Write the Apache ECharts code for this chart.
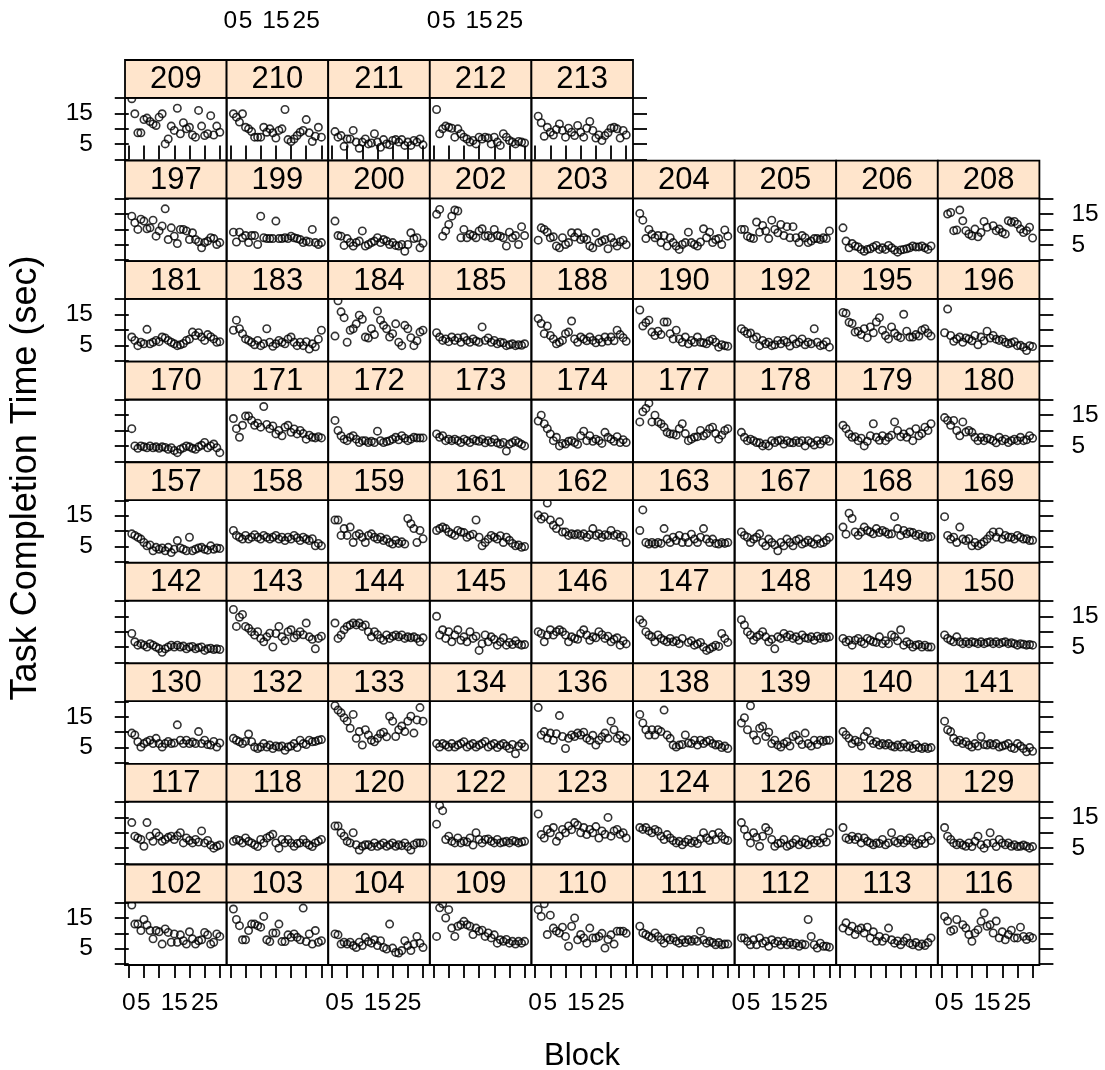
<!DOCTYPE html>
<html>
<head>
<meta charset="utf-8">
<script src="https://cdn.jsdelivr.net/npm/echarts@6/dist/echarts.min.js"></script>
<style>
  html, body { margin: 0; padding: 0; background: #ffffff; }
  #chart { width: 1105px; height: 1070px; }
</style>
</head>
<body>
<div id="chart"></div>
<script>
// Block numbers shared by every subject panel
const blocks = [1, 2, 3, 4, 5, 6, 7, 8, 9, 10, 11, 12, 13, 14, 15, 16, 17, 18, 19, 20, 21, 22, 23, 24, 25, 26, 27, 28, 29, 30];

// Task completion time (sec) per block, one array per subject
const t209 = [19.8, 14.9, 8.7, 8.7, 13.0, 13.5, 12.4, 11.6, 11.1, 13.8, 14.9, 5.1, 6.7, 10.9, 9.5, 16.7, 8.4, 12.0, 10.0, 10.5, 8.0, 7.3, 16.0, 10.9, 7.8, 8.4, 14.3, 8.0, 10.9, 8.9];
const t210 = [14.9, 13.8, 12.2, 14.9, 10.5, 10.0, 9.1, 7.3, 7.3, 7.3, 10.5, 8.9, 10.0, 8.7, 7.0, 9.5, 10.0, 16.3, 6.5, 5.9, 6.7, 7.8, 8.9, 9.5, 13.0, 8.7, 5.9, 7.6, 10.5, 7.3];
const t211 = [9.1, 7.3, 7.8, 4.3, 6.7, 6.7, 9.5, 5.7, 3.7, 5.7, 6.7, 5.1, 5.4, 8.4, 5.7, 4.0, 6.5, 5.1, 4.8, 6.2, 6.5, 5.7, 6.5, 4.6, 5.7, 4.6, 6.2, 5.7, 6.7, 4.8];
const t212 = [16.3, 8.4, 10.0, 10.9, 10.5, 10.2, 7.3, 10.0, 8.4, 7.3, 6.7, 5.7, 6.2, 5.1, 7.3, 6.7, 7.3, 7.0, 5.1, 7.3, 5.7, 4.6, 8.4, 7.3, 6.2, 5.7, 5.1, 5.9, 5.7, 5.4];
const t213 = [14.1, 12.0, 7.6, 10.5, 8.9, 8.0, 9.8, 11.6, 9.5, 7.3, 10.2, 8.9, 7.8, 11.1, 8.9, 7.3, 10.2, 12.4, 9.5, 7.0, 8.0, 6.2, 7.8, 8.7, 10.2, 10.5, 10.0, 7.0, 9.5, 8.0];

const t197 = [14.3, 12.2, 10.0, 13.3, 12.7, 10.2, 10.5, 13.0, 7.8, 9.5, 11.1, 16.7, 6.7, 10.5, 7.8, 5.4, 10.0, 10.0, 9.5, 6.7, 8.9, 6.7, 6.0, 4.0, 5.7, 6.2, 7.3, 7.0, 5.1, 5.7];
const t199 = [9.1, 5.9, 9.1, 7.3, 8.0, 5.7, 8.0, 8.0, 5.1, 14.3, 7.3, 7.0, 7.0, 7.0, 12.7, 7.0, 7.0, 7.3, 7.0, 7.8, 7.3, 7.0, 6.7, 5.7, 6.2, 5.9, 10.0, 5.7, 5.1, 5.7];
const t200 = [12.7, 8.0, 7.8, 4.8, 7.0, 5.7, 4.6, 5.7, 6.2, 9.5, 4.6, 5.1, 5.7, 6.2, 7.3, 5.7, 6.7, 6.2, 5.1, 5.7, 4.8, 4.6, 5.1, 2.9, 5.1, 8.9, 7.0, 7.3, 4.0, 5.5];
const t202 = [14.9, 16.5, 7.8, 9.5, 11.6, 14.3, 16.3, 16.0, 7.3, 10.0, 7.3, 8.4, 8.0, 7.3, 9.5, 10.2, 7.8, 8.0, 7.3, 10.0, 8.0, 7.8, 7.3, 4.6, 9.1, 7.3, 8.0, 5.1, 10.9, 8.0];
const t203 = [6.5, 10.5, 10.0, 9.1, 7.3, 7.6, 4.6, 4.0, 7.3, 5.1, 5.7, 8.9, 7.5, 8.9, 6.7, 7.3, 6.7, 4.6, 4.0, 8.9, 5.7, 6.2, 6.7, 3.7, 7.3, 5.7, 4.6, 6.0, 6.5, 5.0];
const t204 = [15.2, 13.0, 7.0, 10.0, 8.4, 7.3, 8.0, 5.7, 8.0, 4.6, 7.3, 5.7, 4.6, 3.5, 5.1, 5.7, 9.1, 5.7, 5.1, 4.6, 5.9, 10.2, 7.3, 9.1, 5.7, 6.7, 7.0, 5.1, 9.8, 7.8];
const t205 = [10.0, 10.0, 7.8, 7.3, 7.0, 12.4, 9.1, 11.3, 9.5, 7.0, 13.0, 10.0, 8.9, 11.6, 8.0, 10.9, 7.3, 10.9, 7.3, 5.7, 8.0, 7.3, 5.7, 6.2, 7.0, 7.0, 6.7, 7.3, 7.0, 9.5];
const t206 = [10.5, 6.2, 4.0, 5.4, 4.6, 4.3, 3.5, 2.9, 3.5, 3.7, 4.3, 4.8, 3.5, 4.0, 3.5, 4.8, 4.0, 3.3, 2.6, 3.3, 3.5, 3.7, 4.0, 4.6, 4.3, 4.3, 4.6, 4.0, 3.5, 4.6];
const t208 = [20.3, 15.0, 15.5, 9.6, 9.8, 16.3, 12.8, 9.6, 8.5, 7.9, 10.1, 7.6, 9.0, 12.6, 10.7, 20.5, 11.2, 9.6, 10.1, 9.0, 8.5, 12.8, 12.3, 12.6, 11.7, 10.1, 9.0, 9.6, 10.7, 7.2];

const t181 = [7.7, 6.6, 4.9, 6.0, 5.5, 10.2, 5.5, 6.0, 6.6, 6.2, 7.7, 7.4, 6.6, 6.0, 5.5, 4.9, 5.2, 5.6, 6.6, 7.0, 9.3, 8.2, 9.1, 7.7, 6.6, 8.5, 7.8, 7.1, 6.0, 6.2];
const t183 = [9.9, 13.2, 10.4, 8.8, 7.1, 6.6, 6.0, 5.2, 6.6, 4.9, 5.5, 10.4, 6.0, 4.7, 5.5, 6.6, 6.0, 5.5, 7.1, 7.7, 6.0, 4.9, 6.0, 4.9, 6.2, 3.8, 5.5, 4.5, 7.0, 9.9];
const t184 = [8.0, 19.5, 15.9, 14.0, 6.0, 9.9, 10.4, 12.0, 14.8, 13.5, 7.7, 7.4, 10.4, 8.5, 16.2, 13.2, 11.5, 10.4, 7.7, 8.8, 12.0, 6.0, 4.9, 11.5, 10.4, 7.5, 4.9, 6.5, 9.3, 9.9];
const t185 = [9.1, 7.7, 6.6, 7.1, 6.2, 7.7, 6.6, 7.4, 6.0, 7.7, 6.6, 6.0, 7.1, 6.4, 6.0, 11.0, 6.6, 7.4, 6.0, 6.6, 5.5, 6.0, 5.8, 4.9, 5.2, 5.5, 4.9, 5.2, 5.0, 5.5];
const t188 = [13.7, 12.1, 8.8, 11.3, 8.2, 7.1, 5.5, 6.0, 6.6, 8.8, 9.3, 12.9, 7.1, 6.0, 7.7, 7.1, 6.5, 7.7, 6.6, 5.8, 7.1, 6.0, 7.7, 6.4, 7.7, 6.5, 9.9, 8.5, 7.5, 6.3];
const t190 = [16.5, 11.3, 12.4, 13.2, 9.3, 8.2, 9.6, 8.5, 12.6, 12.6, 8.8, 7.1, 9.9, 7.1, 6.0, 7.7, 5.5, 6.6, 6.0, 7.7, 6.0, 5.8, 5.5, 6.5, 7.0, 6.0, 4.4, 5.2, 4.9, 4.7];
const t192 = [10.4, 9.6, 8.8, 9.0, 7.1, 7.7, 4.9, 6.6, 5.5, 6.0, 4.9, 5.2, 6.6, 5.5, 6.6, 6.0, 4.8, 7.1, 5.5, 6.0, 7.1, 5.2, 6.0, 5.5, 10.4, 6.0, 4.9, 5.2, 6.2, 4.4];
const t195 = [15.7, 15.4, 12.5, 12.1, 9.3, 9.6, 8.5, 10.4, 7.5, 11.0, 9.1, 12.6, 14.0, 9.9, 8.2, 7.1, 11.0, 9.0, 8.0, 7.5, 15.1, 9.6, 7.7, 7.7, 8.5, 8.0, 9.9, 10.4, 9.0, 8.0];
const t196 = [9.1, 16.8, 8.2, 6.3, 7.1, 7.7, 6.0, 7.4, 7.1, 6.5, 8.2, 5.2, 7.7, 6.5, 9.6, 7.4, 8.2, 7.0, 6.6, 7.0, 6.0, 5.5, 5.8, 6.2, 4.9, 5.0, 4.4, 3.3, 4.9, 4.6];

const t170 = [10.6, 5.0, 4.2, 5.0, 4.7, 4.4, 5.0, 4.4, 4.7, 4.2, 4.7, 4.5, 3.9, 4.4, 3.5, 2.8, 3.9, 4.4, 5.0, 4.7, 4.2, 3.9, 4.7, 5.2, 6.1, 4.4, 5.0, 5.6, 4.4, 2.8];
const t171 = [13.9, 10.6, 7.8, 11.7, 14.7, 14.7, 13.3, 11.7, 12.4, 11.1, 17.8, 12.0, 10.6, 11.5, 8.9, 10.0, 8.3, 11.1, 11.7, 9.4, 10.5, 8.9, 10.0, 9.0, 7.2, 8.5, 7.8, 7.6, 8.0, 7.6];
const t172 = [13.3, 10.0, 8.3, 7.2, 6.7, 7.8, 8.3, 7.2, 6.1, 6.7, 6.7, 6.1, 6.5, 6.1, 9.8, 6.7, 6.1, 6.4, 6.7, 7.2, 7.8, 7.0, 8.3, 7.5, 6.7, 7.2, 7.8, 7.6, 7.6, 7.6];
const t173 = [8.9, 7.8, 8.3, 6.7, 7.2, 6.7, 7.2, 6.7, 6.1, 7.2, 6.7, 6.1, 7.2, 6.7, 6.5, 7.2, 6.0, 6.7, 6.2, 7.2, 6.0, 5.6, 6.1, 3.3, 5.6, 6.1, 6.7, 6.1, 5.5, 5.0];
const t174 = [13.1, 15.0, 12.2, 10.6, 8.9, 6.7, 7.8, 5.0, 5.8, 5.6, 6.5, 6.7, 6.1, 5.5, 8.3, 9.8, 6.7, 8.3, 6.5, 7.2, 6.7, 5.8, 9.4, 7.8, 7.2, 6.5, 8.0, 6.1, 7.0, 6.1];
const t177 = [12.8, 16.1, 17.2, 18.9, 12.8, 15.0, 12.8, 12.2, 11.1, 9.4, 8.9, 8.9, 8.5, 10.6, 12.2, 9.0, 6.7, 7.2, 7.8, 8.0, 10.0, 8.3, 9.0, 10.6, 11.1, 9.0, 7.2, 8.5, 10.0, 10.6];
const t178 = [9.4, 7.8, 6.7, 7.2, 6.7, 6.1, 6.0, 5.0, 5.6, 5.0, 6.7, 6.1, 6.7, 6.9, 5.6, 6.7, 6.1, 6.0, 6.7, 6.1, 6.7, 5.0, 6.7, 6.1, 5.3, 6.7, 5.6, 6.7, 7.2, 6.5];
const t179 = [11.7, 10.6, 8.9, 7.8, 8.0, 6.7, 7.5, 5.0, 6.5, 8.3, 12.2, 7.8, 6.8, 8.3, 6.7, 7.8, 8.5, 12.8, 10.0, 8.0, 8.9, 7.8, 9.5, 6.7, 10.6, 8.3, 9.0, 11.1, 10.0, 12.2];
const t180 = [14.2, 13.3, 11.7, 13.3, 10.0, 8.3, 12.8, 9.5, 10.0, 9.4, 7.8, 6.7, 7.8, 6.7, 7.5, 7.2, 6.7, 6.0, 7.8, 6.7, 7.2, 6.1, 6.7, 7.2, 6.7, 7.8, 6.7, 7.0, 8.3, 7.5];

const t157 = [9.1, 8.6, 8.0, 7.4, 6.3, 5.2, 5.5, 3.6, 4.7, 4.1, 4.5, 3.6, 4.7, 3.0, 4.1, 6.9, 4.5, 4.1, 3.6, 8.0, 3.6, 4.1, 4.5, 4.7, 4.1, 3.8, 5.2, 4.1, 4.5, 4.3];
const t158 = [10.2, 8.6, 8.0, 7.4, 8.6, 7.4, 8.0, 8.8, 8.0, 7.4, 8.6, 8.0, 7.4, 8.0, 8.6, 7.4, 8.0, 6.9, 8.0, 7.4, 8.6, 7.8, 6.9, 8.0, 7.4, 6.9, 7.5, 5.2, 6.0, 5.2];
const t159 = [13.6, 13.6, 8.6, 10.8, 8.6, 11.3, 6.3, 8.6, 9.1, 8.0, 6.3, 8.6, 9.1, 8.0, 7.4, 8.0, 6.9, 7.4, 6.3, 5.8, 7.0, 6.0, 6.5, 5.8, 14.1, 12.4, 10.8, 6.3, 10.2, 7.5];
const t161 = [10.2, 10.8, 11.3, 10.8, 9.7, 9.1, 8.6, 10.2, 9.7, 9.5, 8.0, 8.6, 9.0, 13.6, 8.0, 5.2, 6.3, 7.4, 8.6, 8.0, 7.4, 8.5, 6.3, 8.0, 7.0, 6.0, 5.2, 5.5, 4.7, 5.0];
const t162 = [15.2, 13.9, 14.7, 19.1, 13.6, 11.9, 10.8, 13.0, 9.7, 9.7, 8.6, 9.1, 8.8, 9.1, 8.6, 9.1, 8.0, 8.8, 10.8, 8.6, 9.1, 8.0, 8.8, 8.6, 10.2, 8.6, 9.0, 8.0, 8.6, 6.3];
const t163 = [10.2, 16.9, 6.3, 5.8, 6.3, 5.8, 6.3, 6.0, 10.8, 7.4, 6.3, 8.0, 6.9, 8.6, 6.3, 8.0, 6.3, 9.0, 7.4, 6.3, 8.0, 10.8, 7.4, 6.3, 7.4, 6.0, 5.8, 6.3, 6.0, 6.3];
const t167 = [9.7, 8.6, 8.0, 6.3, 7.4, 8.0, 9.1, 6.3, 5.2, 7.4, 6.3, 5.5, 3.6, 6.3, 5.2, 7.4, 6.3, 5.2, 6.9, 7.4, 5.8, 6.3, 7.0, 6.3, 5.8, 7.4, 6.0, 6.3, 7.0, 8.0];
const t168 = [11.3, 9.0, 15.8, 14.1, 9.7, 8.6, 9.7, 11.3, 10.2, 9.7, 9.1, 10.8, 9.5, 10.2, 9.7, 9.0, 9.1, 14.7, 10.8, 8.6, 10.2, 9.1, 9.7, 9.5, 8.6, 9.0, 8.0, 8.5, 8.0, 8.2];
const t169 = [14.7, 8.6, 7.4, 8.0, 6.3, 11.3, 7.4, 6.9, 7.5, 5.2, 6.3, 5.2, 5.8, 6.5, 7.4, 8.6, 9.7, 8.0, 9.7, 7.4, 8.6, 8.0, 8.0, 7.4, 8.6, 8.0, 7.4, 7.5, 6.9, 7.0];

const t142 = [9.4, 6.7, 5.6, 6.1, 5.6, 5.0, 6.1, 5.6, 5.0, 4.5, 3.3, 4.4, 5.0, 5.6, 5.0, 5.6, 5.0, 5.3, 4.4, 5.0, 5.2, 4.4, 4.8, 5.0, 3.9, 4.4, 4.6, 4.2, 4.4, 4.2];
const t143 = [17.2, 11.7, 14.7, 15.6, 11.7, 11.1, 10.0, 8.9, 10.0, 7.8, 6.7, 8.3, 9.5, 5.0, 9.4, 11.7, 8.3, 7.0, 10.0, 10.6, 8.0, 8.9, 10.0, 9.0, 12.8, 8.3, 7.5, 4.4, 7.8, 8.5];
const t144 = [12.8, 7.8, 8.9, 10.6, 11.7, 12.2, 12.8, 12.2, 12.8, 11.7, 12.2, 10.0, 8.3, 10.0, 9.0, 7.8, 7.2, 8.9, 7.8, 8.5, 8.9, 8.3, 8.9, 7.8, 8.3, 8.0, 8.3, 7.8, 6.7, 8.0];
const t145 = [15.0, 8.9, 10.6, 7.8, 10.0, 6.7, 8.9, 10.6, 7.2, 8.3, 6.7, 10.0, 7.8, 8.5, 3.9, 6.1, 8.9, 6.7, 8.3, 7.5, 5.6, 6.7, 8.0, 5.6, 6.5, 5.8, 7.0, 6.0, 5.6, 5.8];
const t146 = [10.0, 9.4, 6.7, 8.9, 10.6, 8.9, 10.0, 10.6, 10.0, 8.9, 6.7, 8.3, 7.8, 7.5, 9.4, 10.6, 8.9, 7.2, 8.3, 8.0, 10.0, 9.0, 7.8, 8.5, 6.7, 7.5, 8.0, 5.6, 7.0, 6.0];
const t147 = [13.9, 12.8, 10.0, 8.9, 8.3, 6.7, 8.9, 7.8, 7.2, 6.7, 7.8, 6.7, 7.0, 6.1, 7.8, 21.0, 6.5, 7.0, 5.6, 6.0, 6.5, 5.0, 3.9, 4.4, 5.0, 5.6, 5.2, 9.4, 7.8, 6.5];
const t148 = [13.9, 12.2, 10.0, 8.9, 7.2, 8.3, 8.9, 10.0, 8.3, 6.7, 7.5, 4.4, 8.3, 7.8, 9.4, 8.3, 8.9, 7.8, 8.3, 7.2, 8.9, 8.0, 7.8, 8.3, 7.2, 8.5, 7.8, 8.3, 8.0, 8.3];
const t149 = [7.8, 6.7, 7.2, 5.6, 7.2, 7.8, 6.7, 6.1, 7.8, 7.2, 6.7, 6.5, 8.3, 6.1, 7.0, 6.1, 8.9, 8.3, 7.0, 10.6, 5.6, 6.7, 6.0, 5.0, 5.6, 5.8, 5.0, 5.6, 5.0, 5.0];
const t150 = [8.9, 7.8, 7.2, 6.7, 8.3, 6.7, 6.1, 6.7, 6.1, 6.7, 6.5, 6.1, 6.7, 6.1, 6.5, 6.7, 6.1, 6.7, 6.1, 6.5, 6.7, 6.1, 6.4, 6.1, 5.6, 6.1, 5.9, 5.6, 5.8, 5.6];

const t130 = [9.7, 9.1, 6.9, 5.2, 6.3, 6.9, 7.4, 6.3, 8.0, 6.3, 5.2, 6.3, 7.0, 6.3, 6.5, 12.4, 7.4, 6.3, 7.4, 6.3, 6.8, 6.3, 10.2, 6.3, 7.4, 6.0, 5.8, 7.0, 5.2, 6.5];
const t132 = [8.0, 7.4, 6.9, 6.3, 7.0, 9.4, 6.9, 5.2, 4.7, 5.2, 6.3, 5.2, 5.8, 4.7, 5.5, 5.2, 5.5, 4.1, 5.2, 5.5, 6.3, 5.0, 7.4, 6.3, 6.0, 7.4, 6.9, 7.0, 7.4, 7.6];
const t133 = [18.6, 17.2, 16.3, 14.7, 13.6, 11.3, 15.8, 8.0, 10.2, 5.8, 10.8, 9.1, 7.4, 6.9, 8.0, 9.5, 10.0, 8.5, 15.2, 13.6, 8.6, 10.8, 12.0, 10.2, 13.6, 15.2, 9.7, 14.0, 18.0, 13.6];
const t134 = [6.3, 5.2, 6.3, 5.8, 5.2, 6.3, 5.2, 5.8, 6.3, 6.9, 5.2, 5.8, 6.3, 5.2, 5.8, 6.3, 7.0, 5.2, 5.8, 6.3, 5.0, 5.8, 6.3, 5.5, 4.7, 6.0, 3.0, 5.5, 6.3, 5.2];
const t136 = [18.0, 9.1, 10.2, 8.0, 9.7, 7.4, 9.5, 15.4, 8.6, 4.7, 8.0, 9.1, 8.6, 9.7, 9.1, 10.0, 8.0, 7.4, 9.0, 5.8, 7.4, 8.5, 9.7, 8.0, 13.6, 10.8, 8.0, 9.0, 7.0, 8.0];
const t138 = [15.8, 13.0, 10.8, 9.1, 10.8, 9.1, 10.8, 10.2, 17.2, 9.1, 8.0, 5.8, 5.2, 5.8, 6.0, 9.1, 6.5, 6.3, 7.4, 5.8, 7.4, 6.3, 7.0, 7.4, 6.3, 5.8, 6.0, 5.0, 5.5, 4.7];
const t139 = [13.0, 14.7, 10.8, 18.6, 9.1, 7.4, 11.3, 11.9, 8.6, 10.0, 6.3, 7.4, 5.8, 5.2, 6.3, 6.9, 5.5, 8.6, 9.1, 7.4, 6.0, 9.7, 6.3, 5.5, 7.4, 6.0, 7.4, 7.0, 7.4, 7.4];
const t140 = [10.2, 9.1, 8.0, 6.3, 7.4, 6.9, 5.5, 8.6, 10.2, 7.4, 6.3, 6.9, 5.8, 6.3, 5.8, 6.3, 5.5, 5.2, 5.8, 5.2, 6.3, 5.2, 5.5, 4.7, 6.0, 5.0, 4.7, 5.2, 4.7, 5.0];
const t141 = [13.6, 10.8, 10.2, 8.0, 6.9, 7.4, 6.3, 6.9, 5.8, 5.2, 6.3, 5.5, 8.6, 6.0, 5.8, 6.3, 5.8, 6.3, 5.2, 5.5, 5.8, 6.3, 5.0, 4.7, 6.3, 5.5, 4.7, 3.6, 5.0, 3.8];

const t117 = [13.3, 8.9, 8.3, 7.8, 5.6, 13.3, 8.9, 7.2, 10.0, 8.9, 7.2, 7.8, 8.5, 8.9, 7.8, 9.0, 10.0, 6.7, 8.3, 7.5, 6.7, 7.8, 7.0, 10.6, 6.7, 7.5, 6.0, 5.0, 5.6, 6.0];
const t118 = [7.2, 7.8, 7.5, 6.7, 8.3, 7.2, 6.7, 6.1, 5.5, 7.8, 6.7, 8.3, 8.9, 9.5, 6.7, 5.0, 7.8, 6.7, 7.8, 6.7, 5.6, 6.5, 6.7, 7.8, 6.7, 6.0, 5.5, 6.7, 7.2, 7.8];
const t120 = [12.2, 12.2, 10.0, 8.9, 7.2, 6.7, 10.0, 6.1, 4.4, 5.6, 6.1, 6.1, 5.5, 6.7, 5.6, 6.1, 6.7, 5.6, 6.1, 6.7, 5.6, 6.1, 5.8, 6.7, 5.5, 4.4, 6.1, 6.7, 6.7, 6.7];
const t122 = [12.8, 18.9, 17.2, 7.8, 8.9, 7.2, 6.7, 8.3, 6.7, 7.2, 7.0, 8.3, 6.0, 10.0, 7.8, 6.7, 7.8, 8.0, 7.2, 6.7, 7.8, 6.7, 7.0, 7.2, 6.7, 7.5, 7.2, 6.7, 7.0, 7.2];
const t123 = [16.1, 9.4, 8.3, 11.1, 10.0, 11.7, 7.2, 8.9, 11.1, 10.0, 12.2, 11.0, 13.3, 12.5, 10.0, 11.7, 9.4, 11.1, 10.0, 12.0, 8.3, 10.6, 9.5, 15.0, 8.9, 10.6, 11.1, 9.5, 10.0, 8.3];
const t124 = [11.7, 11.1, 11.7, 10.6, 10.0, 11.1, 10.5, 8.9, 7.8, 9.4, 8.3, 7.5, 6.7, 7.2, 6.1, 7.0, 7.8, 6.7, 7.2, 6.5, 8.0, 10.0, 8.3, 7.5, 9.4, 7.8, 10.0, 8.9, 7.8, 7.5];
const t126 = [13.3, 11.1, 8.9, 6.7, 10.0, 8.5, 5.6, 8.9, 11.7, 10.6, 7.8, 5.6, 6.5, 6.7, 7.8, 5.6, 6.1, 6.7, 7.8, 6.1, 7.0, 6.7, 6.1, 7.8, 6.7, 7.5, 6.7, 8.3, 7.0, 10.0];
const t128 = [11.7, 8.3, 7.8, 8.9, 7.8, 8.5, 6.7, 8.3, 7.2, 6.7, 6.1, 6.7, 6.5, 7.8, 6.1, 6.7, 10.0, 7.2, 6.7, 7.8, 6.7, 7.5, 8.3, 7.2, 6.1, 6.5, 7.8, 6.5, 8.9, 7.5];
const t129 = [11.7, 8.9, 7.8, 6.7, 6.1, 6.7, 6.0, 5.6, 6.7, 5.5, 7.2, 8.9, 6.1, 5.0, 6.5, 10.0, 6.7, 5.5, 7.8, 6.7, 6.1, 6.7, 5.6, 6.1, 5.5, 5.6, 6.0, 5.6, 5.0, 5.5];

const t102 = [19.2, 13.0, 13.0, 10.9, 14.5, 12.7, 10.9, 8.2, 10.9, 10.5, 6.5, 11.4, 10.3, 7.1, 9.8, 7.1, 9.5, 7.6, 6.5, 10.5, 8.2, 6.5, 7.6, 7.9, 10.3, 9.5, 6.5, 7.1, 9.8, 9.0];
const t103 = [17.9, 14.5, 12.5, 7.9, 7.9, 10.9, 13.0, 13.0, 12.5, 12.0, 15.5, 7.9, 7.3, 10.1, 10.1, 13.0, 7.3, 7.3, 9.5, 8.7, 9.8, 8.7, 7.9, 18.2, 7.3, 9.8, 6.5, 10.9, 7.1, 7.6];
const t104 = [9.8, 9.5, 6.5, 7.1, 6.5, 7.1, 6.0, 5.4, 7.1, 6.0, 8.7, 7.3, 6.8, 7.9, 6.0, 7.6, 5.4, 4.9, 13.0, 5.2, 3.8, 3.6, 4.4, 7.6, 6.0, 4.4, 6.5, 9.0, 6.8, 5.4];
const t109 = [9.0, 18.3, 19.6, 15.0, 17.7, 11.7, 9.0, 12.3, 12.8, 13.9, 12.8, 12.3, 9.6, 11.7, 10.7, 11.0, 9.0, 10.1, 8.5, 9.5, 6.8, 7.9, 7.4, 8.0, 6.8, 7.4, 6.5, 7.4, 6.8, 7.4];
const t110 = [17.7, 15.5, 19.6, 9.6, 15.9, 11.7, 10.7, 10.1, 12.0, 9.0, 5.8, 12.3, 15.0, 7.9, 9.6, 8.5, 6.8, 11.7, 8.5, 8.5, 9.0, 10.0, 5.2, 8.0, 9.5, 6.5, 10.7, 10.7, 10.7, 10.0];
const t111 = [12.3, 10.1, 9.6, 9.0, 8.5, 10.1, 9.0, 7.9, 6.8, 8.5, 7.9, 8.5, 7.4, 6.8, 7.9, 7.0, 7.9, 7.4, 8.0, 7.4, 10.7, 7.9, 6.8, 7.4, 7.0, 6.3, 7.0, 6.3, 6.5, 6.5];
const t112 = [8.5, 8.5, 7.4, 6.3, 7.9, 6.3, 8.5, 6.8, 7.4, 5.8, 7.9, 6.8, 7.4, 6.3, 7.5, 6.3, 7.0, 6.3, 6.8, 5.8, 6.5, 6.3, 14.5, 9.0, 6.3, 5.2, 6.8, 5.8, 5.8, 5.5];
const t113 = [11.7, 13.4, 10.7, 12.3, 9.6, 11.2, 11.7, 10.1, 12.0, 8.5, 10.5, 7.4, 9.0, 7.4, 8.5, 11.7, 7.9, 6.8, 7.5, 6.3, 7.4, 8.5, 6.8, 6.3, 7.0, 5.8, 6.5, 6.0, 7.0, 8.5];
const t116 = [15.5, 14.0, 10.7, 11.2, 14.5, 20.5, 12.8, 11.7, 9.6, 7.4, 10.1, 11.2, 13.9, 16.6, 12.3, 12.8, 10.1, 14.0, 8.5, 10.5, 7.9, 9.6, 11.0, 8.5, 8.5, 12.0, 9.0, 8.0, 9.0, 8.5];

// Panel arrangement, top row first
const panelRows = [
  [209, 210, 211, 212, 213],
  [197, 199, 200, 202, 203, 204, 205, 206, 208],
  [181, 183, 184, 185, 188, 190, 192, 195, 196],
  [170, 171, 172, 173, 174, 177, 178, 179, 180],
  [157, 158, 159, 161, 162, 163, 167, 168, 169],
  [142, 143, 144, 145, 146, 147, 148, 149, 150],
  [130, 132, 133, 134, 136, 138, 139, 140, 141],
  [117, 118, 120, 122, 123, 124, 126, 128, 129],
  [102, 103, 104, 109, 110, 111, 112, 113, 116]
];

const times = {
  209: t209, 210: t210, 211: t211, 212: t212, 213: t213,
  197: t197, 199: t199, 200: t200, 202: t202, 203: t203, 204: t204, 205: t205, 206: t206, 208: t208,
  181: t181, 183: t183, 184: t184, 185: t185, 188: t188, 190: t190, 192: t192, 195: t195, 196: t196,
  170: t170, 171: t171, 172: t172, 173: t173, 174: t174, 177: t177, 178: t178, 179: t179, 180: t180,
  157: t157, 158: t158, 159: t159, 161: t161, 162: t162, 163: t163, 167: t167, 168: t168, 169: t169,
  142: t142, 143: t143, 144: t144, 145: t145, 146: t146, 147: t147, 148: t148, 149: t149, 150: t150,
  130: t130, 132: t132, 133: t133, 134: t134, 136: t136, 138: t138, 139: t139, 140: t140, 141: t141,
  117: t117, 118: t118, 120: t120, 122: t122, 123: t123, 124: t124, 126: t126, 128: t128, 129: t129,
  102: t102, 103: t103, 104: t104, 109: t109, 110: t110, 111: t111, 112: t112, 113: t113, 116: t116
};

// Axis ticks and labels
const xTicks = [0, 5, 10, 15, 20, 25, 30];
const xTickLabels = [0, 5, 15, 25];
const yTicks = [0, 5, 10, 15, 20];
const yTickLabels = [5, 15];

const FONT = '"Liberation Sans", Arial, Helvetica, sans-serif';
const LEFT = 125, PANEL_W = 101.6, TOP = 60, ROW_PITCH = 100.56, STRIP_H = 37.8, PANEL_H = 62.7;
const X_MIN = -1.24, X_MAX = 32.24, Y_MIN = -0.3, Y_MAX = 20.1;
const LINE_W = 1.8, TICK_LEN = 14;
const TICK_FONT = 24.5, STRIP_FONT = 31;

const grids = [], xAxes = [], yAxes = [], series = [], graphics = [];
const nRows = panelRows.length;

function yAxisDef(gridIndex, position, showLabels) {
  return {
    gridIndex, type: 'value', min: Y_MIN, max: Y_MAX, position,
    axisLine: { show: false }, splitLine: { show: false },
    axisTick: { show: true, inside: false, length: TICK_LEN, customValues: yTicks,
                lineStyle: { color: '#000', width: LINE_W } },
    axisLabel: { show: showLabels, customValues: yTickLabels, margin: 32,
                 fontSize: TICK_FONT, fontFamily: FONT, color: '#000' }
  };
}

panelRows.forEach((row, r) => {
  const stripTop = TOP + r * ROW_PITCH;
  const panelTop = stripTop + STRIP_H;
  row.forEach((id, c) => {
    const gi = grids.length;
    const left = LEFT + c * PANEL_W;
    grids.push({ left, top: panelTop, width: PANEL_W, height: PANEL_H, show: true,
                 borderColor: '#000', borderWidth: LINE_W, backgroundColor: 'transparent' });

    const isTopRow = r === 0, isBottomRow = r === nRows - 1;
    xAxes.push({
      gridIndex: gi, type: 'value', min: X_MIN, max: X_MAX,
      show: isTopRow || isBottomRow,
      position: isTopRow ? 'top' : 'bottom',
      offset: isTopRow ? STRIP_H : 0,
      axisLine: { show: false }, splitLine: { show: false },
      axisTick: { show: true, inside: false, length: TICK_LEN, customValues: xTicks,
                  lineStyle: { color: '#000', width: LINE_W } },
      axisLabel: { show: isBottomRow ? c % 2 === 0 : c % 2 === 1, customValues: xTickLabels,
                   margin: 26, fontSize: TICK_FONT, fontFamily: FONT, color: '#000' }
    });

    const yi = yAxes.length;
    const leftY = yAxisDef(gi, 'left', r % 2 === 0);
    leftY.show = c === 0;
    yAxes.push(leftY);
    if (c === row.length - 1) {
      yAxes.push(yAxisDef(gi, 'right', r % 2 === 1));
    }

    series.push({
      type: 'scatter', name: String(id), xAxisIndex: gi, yAxisIndex: yi,
      data: times[id].map((v, k) => [blocks[k], v]),
      symbol: 'circle', symbolSize: 7.4,
      itemStyle: { color: 'rgba(0,0,0,0)', borderColor: '#000', borderWidth: 1.6 },
      emphasis: { disabled: true }, silent: true, animation: false
    });

    graphics.push({
      type: 'rect', z: 50, silent: true,
      shape: { x: left, y: stripTop, width: PANEL_W, height: STRIP_H },
      style: { fill: '#FFE5CC', stroke: '#000', lineWidth: LINE_W }
    });
    graphics.push({
      type: 'text', z: 51, silent: true,
      x: left + PANEL_W / 2, y: stripTop + STRIP_H / 2 + 1,
      style: { text: String(id), fill: '#000', font: STRIP_FONT + 'px ' + FONT,
               textAlign: 'center', textVerticalAlign: 'middle' }
    });
  });
});

// Axis titles
graphics.push({
  type: 'text', z: 51, silent: true, x: 582, y: 1056,
  style: { text: 'Block', fill: '#000', font: '31px ' + FONT,
           textAlign: 'center', textVerticalAlign: 'middle' }
});
graphics.push({
  type: 'text', z: 51, silent: true, x: 26, y: 478, rotation: Math.PI / 2,
  style: { text: 'Task Completion Time (sec)', fill: '#000', font: '36px ' + FONT,
           textAlign: 'center', textVerticalAlign: 'middle' }
});

const chart = echarts.init(document.getElementById('chart'), null, { renderer: 'canvas' });
chart.setOption({
  animation: false,
  backgroundColor: '#ffffff',
  grid: grids,
  xAxis: xAxes,
  yAxis: yAxes,
  series: series,
  graphic: { elements: graphics }
});
</script>
</body>
</html>
